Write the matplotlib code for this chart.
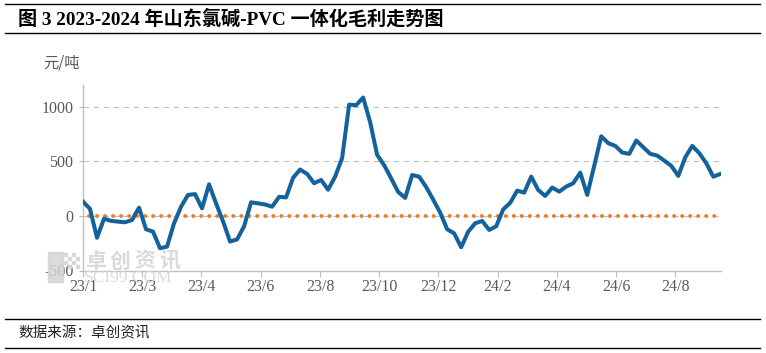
"""山东氯碱-PVC 一体化毛利走势图 (2023-2024)."""
import numpy as np
import matplotlib
matplotlib.use("Agg")
import matplotlib.pyplot as plt
from matplotlib.lines import Line2D
from matplotlib.patches import Rectangle

# weekly gross margin, yuan/ton
margin = [131, 65, -200, -25, -45, -52, -58, -37, 76, -122,
          -144, -296, -281, -67, 85, 193, 200, 70, 290, 115,
          -50, -235, -215, -95, 125, 115, 105, 85, 175, 170,
          350, 425, 385, 300, 330, 240, 360, 530, 1020, 1015,
          1085, 860, 560, 465, 345, 220, 165, 375, 360, 265,
          150, 30, -122, -160, -287, -145, -67, -46, -128, -95,
          60, 120, 232, 214, 360, 238, 183, 260, 223, 269,
          300, 397, 193, 460, 730, 667, 642, 581, 569, 691,
          630, 569, 553, 507, 459, 367, 538, 642, 575, 483,
          360, 385]
zero_line = [0] * len(margin)
tick_labels = ["23/1", "23/3", "23/4", "23/6", "23/8", "23/10",
               "23/12", "24/2", "24/4", "24/6", "24/8"]
tick_step = 8.46  # weeks between labels
y_ticks = [-500, 0, 500, 1000]

BLUE = "#14629c"
ORANGE = "#ed7d31"
GREY = "#bfbfbf"
WM = "#d4d4d4"
TXT = "#595959"
SERIF = ["Liberation Serif", "Noto Sans CJK SC"]
CJK = ["Noto Sans CJK SC", "DejaVu Sans"]


def px(x, y):
    return x / 766, 1 - y / 353


def main():
    fig = plt.figure(figsize=(7.66, 3.53), dpi=100)
    ax = fig.add_axes([83 / 766, 1 - 270.5 / 353, 638 / 766, 185.5 / 353])

    x = np.arange(len(margin))
    ax.plot(x, zero_line, color=ORANGE, lw=2.9,
            ls=(0.5, (0.01, 1.98)), dash_capstyle="round", zorder=2)
    ax.plot(x, margin, color=BLUE, lw=2.9, solid_joinstyle="round", zorder=3)

    ax.set_xlim(0, len(margin) - 0.9)
    ax.set_ylim(-500, 1200)
    ax.set_yticks(y_ticks)
    ax.set_yticklabels([str(v) for v in y_ticks], family=SERIF,
                       fontsize=11.5, color=TXT)
    ax.set_xticks(np.arange(len(tick_labels)) * tick_step)
    ax.set_xticklabels(tick_labels, family=SERIF, fontsize=11.5, color=TXT)
    ax.tick_params(axis="x", length=4, color=GREY, pad=2)
    ax.tick_params(axis="y", length=3, color=GREY, pad=4)

    for v in y_ticks[1:]:
        ax.axhline(v, color=GREY, lw=0.8, ls=(0, (5, 4)), zorder=1)
    for s in ["top", "right"]:
        ax.spines[s].set_visible(False)
    for s in ["left", "bottom"]:
        ax.spines[s].set_color(GREY)
        ax.spines[s].set_linewidth(1.0)

    fig.text(*px(62, 63), "元/吨", family=CJK, fontsize=11,
             color=TXT, ha="center", va="center")

    # title and source bars
    for yy in [4, 33, 319, 348]:
        fig.add_artist(Line2D([5 / 766, 760 / 766], [1 - yy / 353] * 2,
                              color="black", lw=1.0))
    fig.text(*px(18, 19),
             "图 3 2023-2024 年山东氯碱-PVC 一体化毛利走势图",
             family=SERIF, fontsize=13.8, fontweight="bold",
             ha="left", va="center")
    fig.text(*px(18, 333), "数据来源：卓创资讯", family=CJK,
             fontsize=10.5, ha="left", va="center", color="#222222")

    # watermark
    fig.add_artist(Rectangle(px(48, 282), 15 / 766, 30 / 353,
                             color=WM, alpha=0.85, zorder=5))
    for i in range(4):
        for j in range(4):
            if (i + j) % 2 == 0:
                fig.add_artist(Rectangle(px(64 + i * 4, 256 + j * 4),
                                         3 / 766, 3 / 353, color=WM,
                                         alpha=0.85, zorder=5))
    for k, ch in enumerate("卓创资讯"):
        fig.text(*px(96 + k * 24.5, 261), ch, family=CJK, fontsize=15,
                 fontweight="bold", color=WM, alpha=0.85,
                 ha="center", va="center", zorder=5)
    fig.text(*px(84, 278), "SCI99.COM", family=SERIF,
             fontsize=12.5, color=WM, alpha=0.85,
             ha="left", va="center", zorder=5)

    fig.savefig("out.png", dpi=100)


if __name__ == "__main__":
    main()
